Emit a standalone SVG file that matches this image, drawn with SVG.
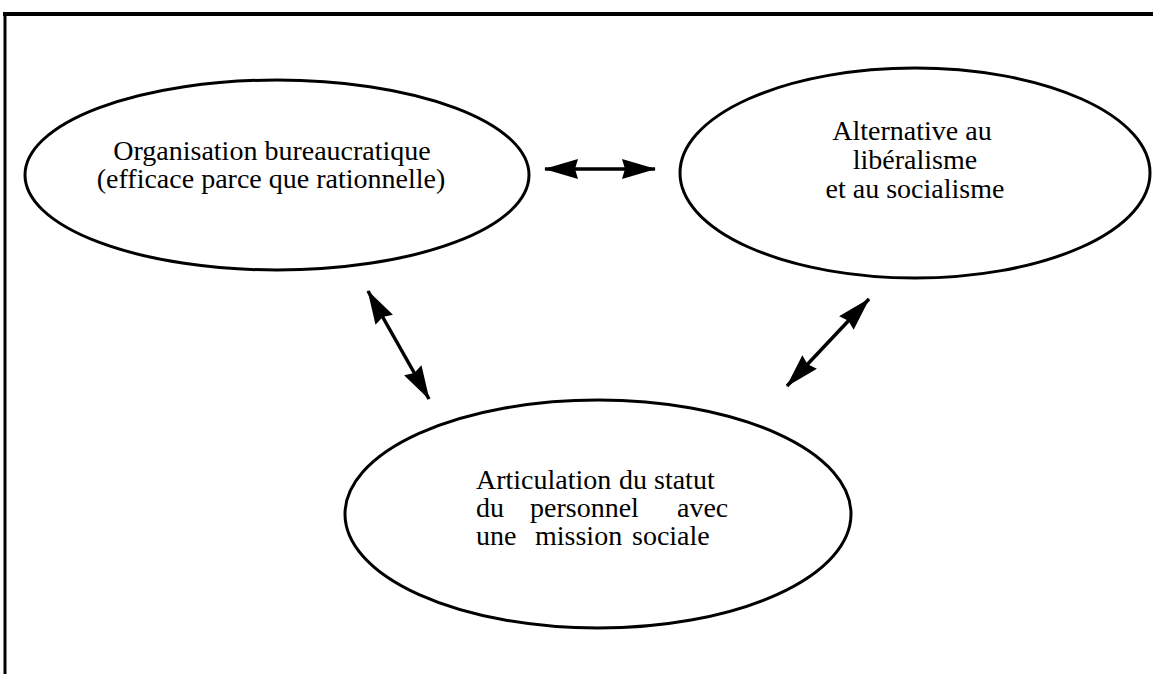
<svg xmlns="http://www.w3.org/2000/svg" width="1153" height="674" viewBox="0 0 1153 674">
  <style>
    .frame { stroke: #000; stroke-width: 4; fill: none; }
    .node { fill: #fff; stroke: #000; stroke-width: 3; }
    .label { font-family: "Liberation Serif", "Times New Roman", serif; font-size: 28px; fill: #000; }
    .mid { text-anchor: middle; }
    .conn { stroke: #000; stroke-width: 3.5; fill: none; marker-start: url(#head); marker-end: url(#head); }
  </style>
  <defs>
    <marker id="head" markerUnits="userSpaceOnUse" viewBox="0 0 34 20" markerWidth="34" markerHeight="20" refX="33" refY="10" orient="auto-start-reverse">
      <path d="M0,0 L34,10 L0,20 L3,10 z" fill="#000"/>
    </marker>
  </defs>
  <rect width="1153" height="674" fill="#fff"/>
  <g id="frame">
    <line class="frame" x1="3" y1="14" x2="1153" y2="14"/>
    <line class="frame" x1="5" y1="12" x2="5" y2="674" style="stroke-width:3"/>
  </g>
  <g id="connectors">
    <line class="conn" x1="545" y1="169" x2="655" y2="169"/>
    <line class="conn" x1="368" y1="291" x2="429" y2="399"/>
    <line class="conn" x1="787" y1="386" x2="869" y2="299"/>
  </g>
  <g id="node-organisation">
    <ellipse class="node" cx="277" cy="175" rx="252" ry="95"/>
    <text class="label mid" x="272" y="160">Organisation bureaucratique</text>
    <text class="label mid" x="271" y="188">(efficace parce que rationnelle)</text>
  </g>
  <g id="node-alternative">
    <ellipse class="node" cx="915" cy="173" rx="235" ry="105"/>
    <text class="label mid" x="912" y="140">Alternative au</text>
    <text class="label mid" x="915" y="169">libéralisme</text>
    <text class="label mid" x="915" y="198">et au socialisme</text>
  </g>
  <g id="node-articulation">
    <ellipse class="node" cx="598" cy="514" rx="253" ry="114"/>
    <text class="label" y="489"><tspan x="476">Articulation</tspan><tspan x="619">du</tspan><tspan x="654">statut</tspan></text>
    <text class="label" y="517"><tspan x="476">du</tspan><tspan x="530">personnel</tspan><tspan x="677">avec</tspan></text>
    <text class="label" y="545"><tspan x="476">une</tspan><tspan x="535">mission</tspan><tspan x="632">sociale</tspan></text>
  </g>
</svg>
